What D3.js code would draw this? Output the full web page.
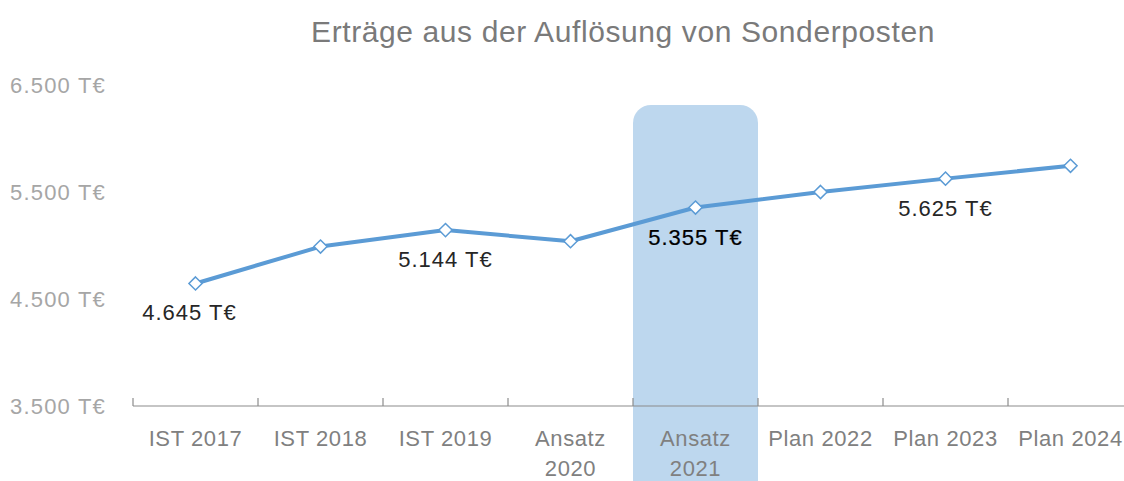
<!DOCTYPE html>
<html>
<head>
<meta charset="utf-8">
<script src="https://cdn.jsdelivr.net/npm/d3@7"></script>
<style>
  body { margin: 0; background: #fff; }
  svg text { font-family: "Liberation Sans", Arial, sans-serif; }
</style>
</head>
<body>
<svg id="chart"></svg>
<script>
var width = 1124;
var height = 481;

var categories = ['IST 2017', 'IST 2018', 'IST 2019', 'Ansatz 2020', 'Ansatz 2021', 'Plan 2022', 'Plan 2023', 'Plan 2024'];
var values = [4645, 4990, 5144, 5040, 5355, 5500, 5625, 5745];
var labelled = ['IST 2017', 'IST 2019', 'Ansatz 2021', 'Plan 2023'];
var highlight = 'Ansatz 2021';
var yTicks = [3500, 4500, 5500, 6500];

var de = d3.formatLocale({decimal: ',', thousands: '.', grouping: [3], currency: ['', '€']});
var fmt = de.format(',d');

var svg = d3.select('#chart')
    .attr('width', width)
    .attr('height', height);

var xScale = d3.scaleBand()
    .domain(categories)
    .range([133, 1133]);

var yScale = d3.scaleLinear()
    .domain([3500, 6500])
    .range([406, 85]);

// highlighted column
svg.append('rect')
    .attr('x', xScale(highlight))
    .attr('y', 105)
    .attr('width', xScale.bandwidth())
    .attr('height', 420)
    .attr('rx', 18)
    .attr('fill', '#bdd7ee');

// title
svg.append('text')
    .attr('x', 623)
    .attr('y', 42)
    .style('text-anchor', 'middle')
    .style('font-size', '30px')
    .style('letter-spacing', '0.6px')
    .attr('fill', '#7a7a7a')
    .text('Erträge aus der Auflösung von Sonderposten');

// y tick labels
svg.selectAll('.ytick')
    .data(yTicks)
    .enter()
    .append('text')
        .attr('x', 10)
        .attr('y', d => yScale(d) + 8)
        .style('font-size', '22px')
        .style('letter-spacing', '1.2px')
        .attr('fill', '#a6a6a6')
        .text(d => fmt(d) + ' T€');

// x axis line with ticks at category boundaries
var y0 = yScale(3500);
svg.append('line')
    .attr('x1', xScale.range()[0])
    .attr('x2', xScale.range()[1])
    .attr('y1', y0)
    .attr('y2', y0)
    .attr('stroke', '#8c8c8c')
    .attr('stroke-width', 1.2);

svg.selectAll('.xtick')
    .data(categories.concat(['end']))
    .enter()
    .append('line')
        .attr('x1', (d, i) => xScale.range()[0] + i * xScale.step())
        .attr('x2', (d, i) => xScale.range()[0] + i * xScale.step())
        .attr('y1', y0)
        .attr('y2', y0 - 8)
        .attr('stroke', '#8c8c8c')
        .attr('stroke-width', 1.2);

// x labels
var xLabels = svg.selectAll('.xlabel')
    .data(categories)
    .enter()
    .append('text')
        .attr('x', d => xScale(d) + xScale.bandwidth() / 2)
        .attr('y', 446)
        .style('text-anchor', 'middle')
        .style('font-size', '22px')
        .style('letter-spacing', '0.6px')
        .attr('fill', '#808080');

xLabels.each(function(d){
    var parts = d.indexOf('Ansatz') === 0 ? d.split(' ') : [d];
    var t = d3.select(this);
    parts.forEach(function(p, i){
        t.append('tspan')
            .attr('x', xScale(d) + xScale.bandwidth() / 2)
            .attr('dy', i === 0 ? 0 : 30)
            .text(p);
    });
});

// line
var line = d3.line()
    .x((d, i) => xScale(categories[i]) + xScale.bandwidth() / 2)
    .y(d => yScale(d));

svg.append('path')
    .datum(values)
    .attr('d', line)
    .attr('fill', 'none')
    .attr('stroke', '#5b9bd5')
    .attr('stroke-width', 4)
    .attr('stroke-linejoin', 'round');

// markers
svg.selectAll('.marker')
    .data(values)
    .enter()
    .append('path')
        .attr('d', d3.symbol().type(d3.symbolDiamond2).size(110))
        .attr('transform', (d, i) => 'translate(' + (xScale(categories[i]) + xScale.bandwidth() / 2) + ',' + yScale(d) + ')')
        .attr('fill', '#fff')
        .attr('stroke', '#5b9bd5')
        .attr('stroke-width', 1.5);

// data labels
svg.selectAll('.dlabel')
    .data(values.map((v, i) => ({cat: categories[i], v: v})).filter(d => labelled.indexOf(d.cat) >= 0))
    .enter()
    .append('text')
        .attr('x', d => xScale(d.cat) + xScale.bandwidth() / 2 - (d.cat === 'IST 2017' ? 6 : 0))
        .attr('y', d => yScale(d.v) + 37)
        .style('text-anchor', 'middle')
        .style('font-size', '22px')
        .style('letter-spacing', '1px')
        .attr('fill', d => d.cat === highlight ? '#000' : '#262626')
        .attr('stroke', d => d.cat === highlight ? '#000' : 'none')
        .attr('stroke-width', 0.2)
        .text(d => fmt(d.v) + ' T€');
</script>
</body>
</html>
